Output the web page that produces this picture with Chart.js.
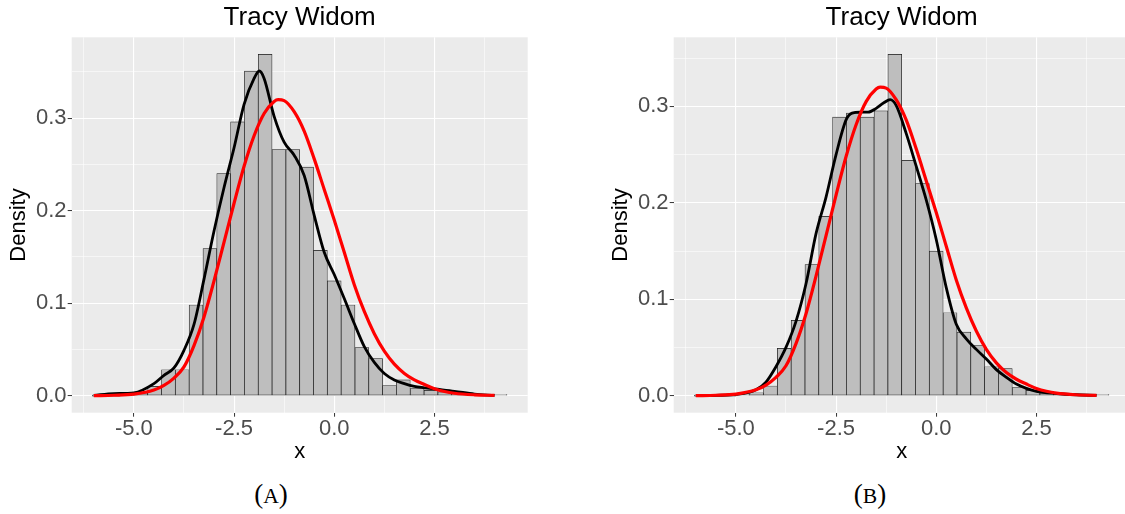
<!DOCTYPE html>
<html>
<head>
<meta charset="utf-8">
<script src="https://cdn.jsdelivr.net/npm/chart.js@4.4.1/dist/chart.umd.min.js"></script>
<style>
  html, body { margin: 0; padding: 0; background: #fff; overflow: hidden; }
  body { width: 1125px; height: 514px; position: relative; }
  canvas { position: absolute; top: 0; }
  #chartA { left: 0; }
  #chartB { left: 602px; }
  .caption {
    position: absolute; top: 481px; width: 120px; text-align: center;
    font-family: "Liberation Serif", "DejaVu Serif", serif;
    font-size: 27px; line-height: 27px; color: #000;
  }
  .caption span { font-size: 0.8em; }
</style>
</head>
<body>
<canvas id="chartA" width="560" height="470"></canvas>
<canvas id="chartB" width="560" height="470"></canvas>
<div class="caption" style="left:211px">(<span>A</span>)</div>
<div class="caption" style="left:810px">(<span>B</span>)</div>
<script>
  // histogram bins (30 bins, centres)
  const binCenters = [-5.862, -5.517, -5.172, -4.828, -4.483, -4.138, -3.793, -3.448, -3.103, -2.759,
    -2.414, -2.069, -1.724, -1.379, -1.034, -0.690, -0.345, 0.000, 0.345, 0.690,
    1.034, 1.379, 1.724, 2.069, 2.414, 2.759, 3.103, 3.448, 3.793, 4.138];

  const densityA = [0, 0, 0.001, 0.003, 0.010, 0.028, 0.028, 0.098, 0.159, 0.240,
    0.296, 0.351, 0.369, 0.266, 0.266, 0.247, 0.157, 0.124, 0.098, 0.052,
    0.040, 0.011, 0.017, 0.0075, 0.0058, 0.004, 0.003, 0.0015, 0.0007, 0.0003];

  const densityB = [0, 0, 0, 0.001, 0.003, 0.010, 0.049, 0.078, 0.136, 0.186,
    0.289, 0.293, 0.289, 0.2955, 0.354, 0.244, 0.220, 0.150, 0.086, 0.066,
    0.052, 0.030, 0.028, 0.0083, 0.0055, 0.0028, 0.002, 0.0014, 0.0007, 0.0003];

  // kernel density estimate (black)
  const kdeXA = [-6.0, -5.5, -5.0, -4.5, -4.25, -4.0, -3.75, -3.5, -3.25, -3.0, -2.75, -2.5, -2.25, -2.0,
    -1.87, -1.75, -1.5, -1.25, -1.0, -0.75, -0.5, -0.25, 0.0, 0.25, 0.5, 0.75, 1.0, 1.25, 1.5,
    1.75, 2.0, 2.25, 2.5, 3.0, 3.5, 4.0];
  const kdeYA = [0.0003, 0.0022, 0.003, 0.013, 0.022, 0.030, 0.049, 0.077, 0.126, 0.178, 0.225, 0.268, 0.315, 0.343,
    0.351, 0.343, 0.302, 0.274, 0.260, 0.238, 0.195, 0.155, 0.131, 0.105, 0.078, 0.053, 0.036, 0.024, 0.017,
    0.013, 0.010, 0.0085, 0.0072, 0.0047, 0.0017, 0.0002];

  const kdeXB = [-6.0, -5.5, -5.0, -4.5, -4.25, -4.0, -3.75, -3.5, -3.25, -3.0, -2.75, -2.5, -2.25, -2.1,
    -1.9, -1.7, -1.5, -1.3, -1.15, -1.0, -0.75, -0.5, -0.25, 0.0, 0.25, 0.5, 0.75, 1.0, 1.25,
    1.5, 1.75, 2.0, 2.25, 2.5, 3.0, 3.5, 4.0];
  const kdeYB = [0, 0.0003, 0.0012, 0.006, 0.014, 0.030, 0.050, 0.077, 0.116, 0.168, 0.206, 0.250, 0.286, 0.293,
    0.294, 0.294, 0.298, 0.304, 0.307, 0.301, 0.272, 0.238, 0.203, 0.162, 0.112, 0.074, 0.059, 0.048, 0.038,
    0.027, 0.019, 0.012, 0.0075, 0.0045, 0.0022, 0.0009, 0.0002];

  // Tracy-Widom density (red), same in both panels
  const twX = [-6.0, -5.5, -5.0, -4.5, -4.25, -4.0, -3.75, -3.5, -3.25, -3.0, -2.75, -2.5, -2.25, -2.0,
    -1.75, -1.5, -1.4, -1.25, -1.0, -0.75, -0.5, -0.25, 0.0, 0.25, 0.5, 0.75, 1.0, 1.25, 1.5,
    1.75, 2.0, 2.25, 2.5, 2.75, 3.0, 3.5, 4.0];
  const twY = [0, 0.0004, 0.0016, 0.006, 0.011, 0.019, 0.031, 0.054, 0.085, 0.124, 0.166, 0.208, 0.248, 0.281,
    0.305, 0.318, 0.320, 0.319, 0.307, 0.286, 0.256, 0.223, 0.190, 0.155, 0.120, 0.091, 0.067, 0.048, 0.034,
    0.024, 0.017, 0.012, 0.0075, 0.0045, 0.0026, 0.0009, 0.0002];

  const xMajor = [-5, -2.5, 0, 2.5];
  const xTickLabels = ["-5.0", "-2.5", "0.0", "2.5"];
  const xMinor = [-6.25, -3.75, -1.25, 1.25, 3.75];
  const yMajor = [0, 0.1, 0.2, 0.3];
  const yTickLabels = ["0.0", "0.1", "0.2", "0.3"];
  const yMinor = [0.05, 0.15, 0.25, 0.35];

  const FONT = "'Liberation Sans', Arial, sans-serif";

  function isMajor(list, v) {
    return list.some(m => Math.abs(m - v) < 1e-6);
  }
  function tickLabel(list, labels, v) {
    const i = list.findIndex(m => Math.abs(m - v) < 1e-6);
    return i < 0 ? "" : labels[i];
  }

  const panelBg = {
    id: "panelBg",
    beforeDraw(chart) {
      const { ctx, chartArea: a } = chart;
      ctx.save();
      ctx.fillStyle = "#ebebeb";
      ctx.fillRect(a.left, a.top, a.right - a.left, a.bottom - a.top);
      ctx.restore();
    }
  };

  function gridFor(major) {
    const maj = c => !!(c.tick && isMajor(major, c.tick.value));
    return {
      offset: false,
      color: "#ffffff",
      lineWidth: c => maj(c) ? 1.1 : 0.55,
      tickColor: c => maj(c) ? "#333333" : "rgba(0,0,0,0)",
      tickLength: 4,
      tickWidth: 1
    };
  }

  function drawPanel(id, dens, kdeX, kdeY) {
    const w = binCenters[1] - binCenters[0];
    const lo = binCenters[0] - w / 2;
    const hi = binCenters[binCenters.length - 1] + w / 2;
    const padX = (hi - lo) * 0.05;
    const top = Math.max(...dens, ...kdeY, ...twY);

    new Chart(document.getElementById(id), {
      type: "bar",
      data: {
        datasets: [
          {
            type: "line",
            data: twX.map((x, i) => ({ x, y: twY[i] })),
            borderColor: "#ff0000",
            borderWidth: 3.2,
            pointRadius: 0,
            cubicInterpolationMode: "monotone",
            order: 0
          },
          {
            type: "line",
            data: kdeX.map((x, i) => ({ x, y: kdeY[i] })),
            borderColor: "#000000",
            borderWidth: 2.8,
            pointRadius: 0,
            cubicInterpolationMode: "monotone",
            order: 1
          },
          {
            type: "bar",
            data: binCenters.map((x, i) => ({ x, y: dens[i] })),
            backgroundColor: "#bebebe",
            borderColor: "#1a1a1a",
            borderWidth: 0.7,
            borderSkipped: false,
            minBarLength: 1,
            barPercentage: 1,
            categoryPercentage: 1,
            order: 2
          }
        ]
      },
      options: {
        responsive: false,
        animation: false,
        events: [],
        layout: { autoPadding: false, padding: { left: 0, top: 0, right: 32.3, bottom: 0 } },
        plugins: {
          legend: { display: false },
          tooltip: { enabled: false },
          title: {
            display: true,
            text: "Tracy Widom",
            fullSize: false,
            color: "#000000",
            font: { family: FONT, size: 26, weight: "normal", lineHeight: 1.2 },
            padding: { top: 2.7, bottom: 3.4 }
          }
        },
        scales: {
          x: {
            type: "linear",
            min: lo - padX,
            max: hi + padX,
            offset: false,
            border: { display: false },
            grid: gridFor(xMajor),
            afterBuildTicks: s => {
              s.ticks = [...xMinor, ...xMajor].sort((a, b) => a - b).map(v => ({ value: v }));
            },
            afterFit: s => { s.height = 57.3; },
            ticks: {
              autoSkip: false,
              maxRotation: 0,
              padding: 1,
              color: "#4d4d4d",
              font: { family: FONT, size: 22, lineHeight: 1 },
              callback: v => tickLabel(xMajor, xTickLabels, v)
            },
            title: {
              display: true,
              text: "x",
              color: "#000000",
              font: { family: FONT, size: 22 },
              padding: { top: 0, bottom: 4.4 }
            }
          },
          y: {
            type: "linear",
            min: -0.05 * top,
            max: 1.05 * top,
            border: { display: false },
            grid: gridFor(yMajor),
            afterBuildTicks: s => {
              s.ticks = [...yMinor, ...yMajor].sort((a, b) => a - b).map(v => ({ value: v }));
            },
            afterFit: s => { s.width = 71.7; },
            ticks: {
              autoSkip: false,
              padding: 1.2,
              color: "#4d4d4d",
              font: { family: FONT, size: 22 },
              callback: v => tickLabel(yMajor, yTickLabels, v)
            },
            title: {
              display: true,
              text: "Density",
              color: "#000000",
              font: { family: FONT, size: 22 },
              padding: { top: 5.8, bottom: 0 }
            }
          }
        }
      },
      plugins: [panelBg]
    });
  }

  drawPanel("chartA", densityA, kdeXA, kdeYA);
  drawPanel("chartB", densityB, kdeXB, kdeYB);
</script>
</body>
</html>
